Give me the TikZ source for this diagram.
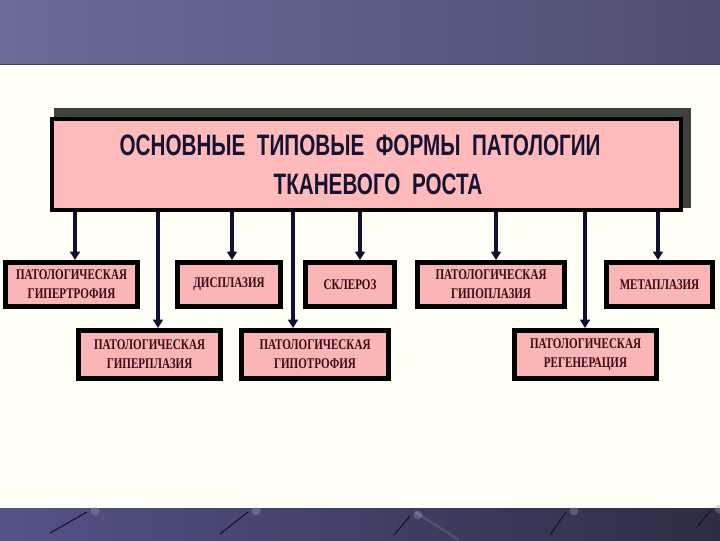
\documentclass[tikz,border=0pt]{standalone}
\usepackage{fontspec}
\setmainfont{Liberation Serif}
\newfontfamily\ttlfont{Liberation Sans}[FakeStretch=0.70]
\newfontfamily\boxfont{Liberation Serif}[FakeStretch=0.75]
\usetikzlibrary{arrows.meta,backgrounds}
\definecolor{bannerL}{RGB}{108,107,153}
\definecolor{bannerR}{RGB}{78,77,112}
\definecolor{footL}{RGB}{84,82,136}
\definecolor{footR}{RGB}{46,45,68}
\definecolor{paper}{RGB}{255,255,248}
\definecolor{rosefill}{RGB}{255,187,187}
\definecolor{boxfill}{RGB}{250,182,182}
\definecolor{shadowgray}{RGB}{62,66,62}
\definecolor{inkblue}{RGB}{22,18,52}
\definecolor{inkred}{RGB}{60,10,20}
\definecolor{arrblue}{RGB}{16,16,48}
\tikzset{
  ttlbox/.style={draw=black, line width=3.2pt, fill=rosefill, inner sep=0pt,
    minimum width=15.71cm, minimum height=2.2625cm, align=center, text=inkblue,
    font=\ttlfont\bfseries\fontsize{21}{27.6}\selectfont},
  formbox/.style={draw=black, line width=3.5pt, fill=boxfill, inner sep=0pt,
    minimum height=1.1cm, align=center, text=inkred,
    font=\boxfont\bfseries\fontsize{10.5}{13.5}\selectfont},
  tallbox/.style={formbox, minimum height=1.2cm},
  parr/.style={-{Triangle[length=6pt,width=7pt]}, arrblue, line width=2.6pt},
  pin/.style={line width=0.8pt, black!50!footR},
  pinhead/.style={fill=white!45!footL, opacity=0.35},
}

\begin{document}
\begin{tikzpicture}[x=0.025cm,y=-0.025cm]
\useasboundingbox (0,0) rectangle (720,540);
% title and forms
\node[ttlbox] (title) at (366.5,164.5)
  {\hspace*{-9.2pt}ОСНОВНЫЕ\ \ ТИПОВЫЕ\ \ ФОРМЫ\ \ ПАТОЛОГИИ\\\hspace*{16.3pt}ТКАНЕВОГО\ \ РОСТА};
\node[formbox, minimum width=3.3cm] (hypertr) at (71.5,284.5) {ПАТОЛОГИЧЕСКАЯ\\ГИПЕРТРОФИЯ};
\node[tallbox, minimum width=3.55cm] (hyperpl) at (149.5,354.5) {ПАТОЛОГИЧЕСКАЯ\\ГИПЕРПЛАЗИЯ};
\node[formbox, minimum width=2.575cm] (dyspl) at (229,284.5) {ДИСПЛАЗИЯ};
\node[tallbox, minimum width=3.675cm] (hypotr) at (315,354.5) {ПАТОЛОГИЧЕСКАЯ\\ГИПОТРОФИЯ};
\node[formbox, minimum width=2.225cm] (scler) at (350,284.5) {СКЛЕРОЗ};
\node[formbox, minimum width=3.675cm] (hypopl) at (491,284.5) {ПАТОЛОГИЧЕСКАЯ\\ГИПОПЛАЗИЯ};
\node[tallbox, minimum width=3.55cm] (regen) at (585.5,354.5) {ПАТОЛОГИЧЕСКАЯ\\РЕГЕНЕРАЦИЯ};
\node[formbox, minimum width=2.65cm] (metapl) at (659.5,284.5) {МЕТАПЛАЗИЯ};
% arrows
\foreach \nd/\ax in {hypertr/75, hyperpl/158, dyspl/232, hypotr/293,
                     scler/360, hypopl/496, regen/585, metapl/658}
  \draw[parr] (title.south -| \ax,0) -- (\nd.north -| \ax,0);
% slide background
\begin{scope}[on background layer]
  \fill[paper] (0,0) rectangle (720,540);
  \shade[left color=bannerL, right color=bannerR] (0,0) rectangle (720,64);
  \draw[line width=1.2pt, bannerR!80!black] (0,64.5) -- (720,64.5);
  \shade[left color=footL, right color=footR] (0,508) rectangle (720,540);
  \foreach \xa/\ya/\xb/\yb in {50/533/87/512, 220/534/248/512, 394/535/410/516,
                               550/535/566/512, 697/527/711/510}{
    \draw[pin] (\xa,\ya) -- (\xb,\yb);
    \fill[pinhead] (\xb+8,\yb-1) circle (0.11cm);
  }
  \draw[line width=1.5pt, white, opacity=0.12] (415,512) -- (459,540);
  \fill[shadowgray] ([shift={(3.75,-9.25)}]title.north west)
    rectangle ([shift={(8.25,-3.75)}]title.south east);
\end{scope}
\end{tikzpicture}
\end{document}
